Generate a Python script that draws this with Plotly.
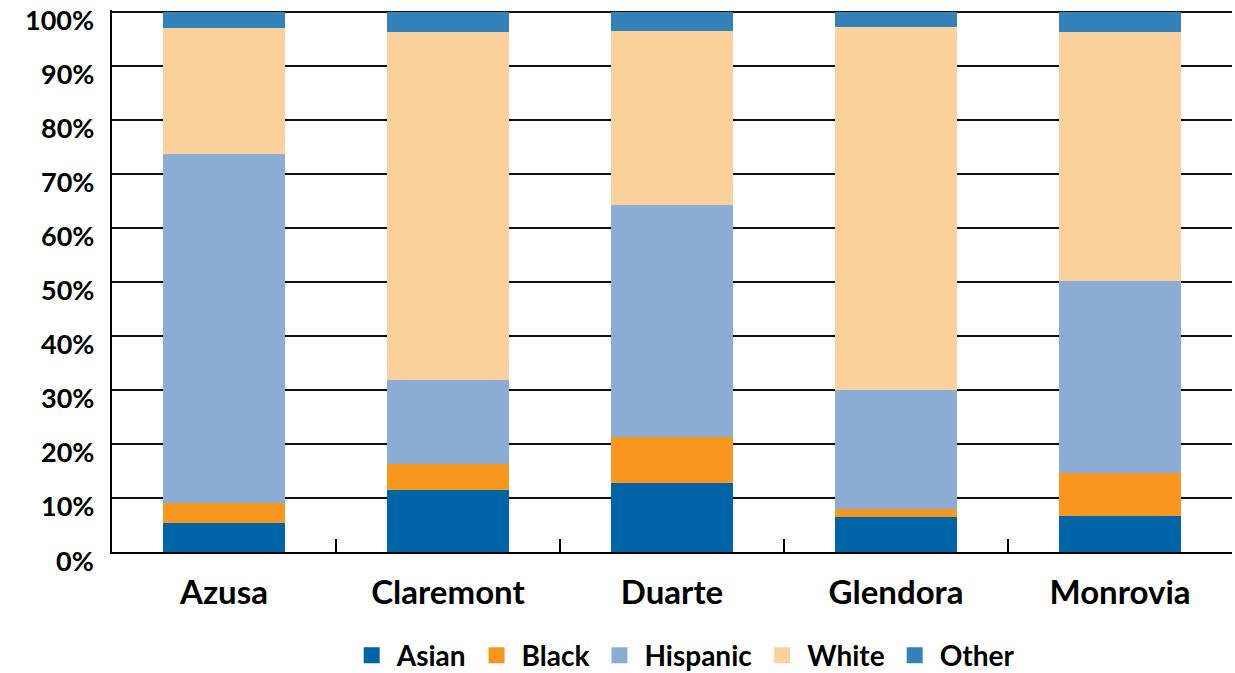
import plotly.graph_objects as go

cities = ["Azusa", "Claremont", "Duarte", "Glendora", "Monrovia"]
asian = [5.4, 11.5, 12.7, 6.5, 6.7]
black = [3.6, 4.7, 8.5, 1.4, 8.0]
hispanic = [64.6, 15.7, 43.1, 22.0, 35.4]
white = [23.4, 64.3, 32.1, 67.2, 46.1]
other = [3.0, 3.8, 3.6, 2.9, 3.8]
y_ticks = [0, 10, 20, 30, 40, 50, 60, 70, 80, 90, 100]
y_labels = ["0%", "10%", "20%", "30%", "40%", "50%", "60%", "70%", "80%", "90%", "100%"]

series = [
    ("Asian", asian, "#0064A7"),
    ("Black", black, "#F7971F"),
    ("Hispanic", hispanic, "#8BADD4"),
    ("White", white, "#FBD19E"),
    ("Other", other, "#3382B9"),
]

FONT = "Lato"

fig = go.Figure()
for name, vals, color in series:
    fig.add_trace(go.Bar(
        name=name, x=cities, y=vals, showlegend=False, legendgroup=name,
        marker=dict(color=color, line=dict(width=0)),
    ))
# legend entries with larger square swatches
for name, vals, color in series:
    fig.add_trace(go.Scatter(
        name=name, x=[None], y=[None], mode="markers", legendgroup=name,
        marker=dict(symbol="square", size=22, color=color),
    ))

# y tick labels (sit slightly below their grid lines, as in the original)
for v, lab in zip(y_ticks, y_labels):
    fig.add_annotation(
        x=0, xref="paper", y=v, yref="y", text=lab, showarrow=False,
        xanchor="right", yanchor="middle", xshift=-16, yshift=-8,
        font=dict(family=FONT, size=27, weight="bold", color="black"),
    )

fig.update_layout(
    width=1235, height=673,
    barmode="stack", bargap=0.455,
    plot_bgcolor="white", paper_bgcolor="white",
    margin=dict(l=112, r=3, t=10, b=121),
    font=dict(family=FONT, color="black"),
    legend=dict(
        orientation="h", xref="paper", x=0.51, xanchor="center",
        yref="container", y=0.026, yanchor="middle",
        traceorder="normal", itemsizing="trace", itemwidth=40,
        font=dict(family=FONT, size=28, weight="bold", color="black"),
    ),
    xaxis=dict(
        showline=True, linecolor="black", linewidth=2,
        ticks="inside", tickson="boundaries", ticklen=13, tickwidth=2, tickcolor="black",
        tickfont=dict(family=FONT, size=33, weight="bold", color="black"),
        ticklabelstandoff=10, automargin=False,
        showgrid=False,
    ),
    yaxis=dict(
        range=[0, 100.3], tickmode="array", tickvals=y_ticks,
        showticklabels=False,
        showline=True, linecolor="black", linewidth=2,
        showgrid=True, gridcolor="#111111", gridwidth=2,
        zeroline=False, ticks="", automargin=False,
    ),
)

fig.write_html("out.html", config={"displayModeBar": False},
               post_script="document.body.style.margin='0px';")
